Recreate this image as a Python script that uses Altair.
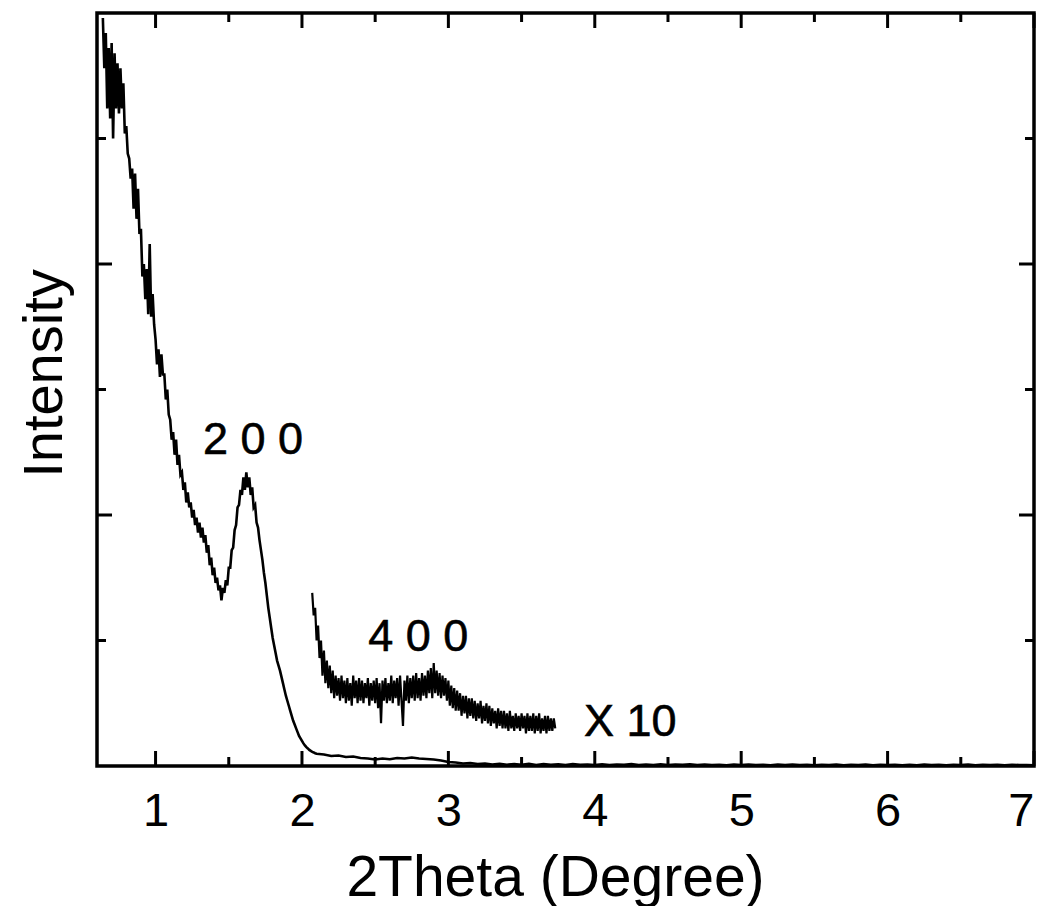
import altair as alt
import numpy as np
import pandas as pd

FONT = "Liberation Sans"

# ---- main pattern ----
segA_start, segA_step = 0.64, 0.01
segA_int = [2.98, 2.78, 2.92, 2.62, 2.86, 2.58, 2.88, 2.50, 2.84, 2.62,
            2.80, 2.60, 2.78, 2.62, 2.72, 2.52, 2.55, 2.44, 2.42, 2.34,
            2.38, 2.22, 2.36, 2.18, 2.30, 2.12, 2.14, 1.95, 2.00, 1.86,
            1.98, 1.80, 2.08, 1.79, 1.88, 1.76, 1.70, 1.60, 1.66, 1.55,
            1.64, 1.56, 1.56, 1.46, 1.50, 1.40, 1.38, 1.30, 1.33, 1.24,
            1.30, 1.20, 1.24, 1.16, 1.17, 1.10, 1.13]

segB_start, segB_step = 1.21, 0.01
segB_int = [1.05, 1.09, 1.03, 1.05, 0.99, 1.02, 0.96, 0.99, 0.93, 0.97,
            0.91, 0.95, 0.89, 0.92, 0.85, 0.88, 0.80, 0.83, 0.76, 0.79,
            0.73, 0.75, 0.70, 0.72, 0.66, 0.71, 0.69, 0.74, 0.72, 0.79,
            0.79, 0.86, 0.87, 0.94, 0.96, 1.03, 1.04, 1.10, 1.08, 1.15,
            1.10, 1.17, 1.11, 1.15, 1.08, 1.11, 1.03, 1.04, 0.97, 0.95,
            0.90, 0.86, 0.82, 0.77, 0.73, 0.68, 0.63, 0.59, 0.55, 0.51,
            0.48, 0.45, 0.42, 0.40, 0.38, 0.355, 0.33, 0.305, 0.28, 0.26,
            0.24, 0.22, 0.20, 0.18, 0.165, 0.15, 0.135, 0.12, 0.11, 0.10,
            0.09, 0.082, 0.075, 0.07, 0.064, 0.06, 0.056, 0.054, 0.051, 0.049]

segC_start, segC_step = 2.15, 0.05
segC_int = [0.046, 0.040, 0.042, 0.036, 0.038, 0.032, 0.030, 0.026, 0.030, 0.027,
            0.032, 0.030, 0.034, 0.030, 0.028, 0.026, 0.022, 0.016, 0.014, 0.010,
            0.012, 0.008, 0.010, 0.006, 0.009, 0.005, 0.008, 0.005, 0.009, 0.004,
            0.008, 0.005, 0.007, 0.004, 0.008, 0.005, 0.006, 0.004, 0.007, 0.004,
            0.006, 0.005, 0.008, 0.004, 0.006, 0.004, 0.007, 0.004, 0.006, 0.005,
            0.007, 0.004, 0.006, 0.004, 0.005, 0.003, 0.006, 0.004, 0.006, 0.004,
            0.005, 0.003, 0.006, 0.004, 0.006, 0.004, 0.005, 0.003, 0.005, 0.004,
            0.006, 0.003, 0.005, 0.004, 0.006, 0.003, 0.005, 0.004, 0.005, 0.003,
            0.005, 0.003, 0.006, 0.004, 0.005, 0.003, 0.005, 0.004, 0.006, 0.003,
            0.005, 0.004, 0.005, 0.003, 0.005, 0.004, 0.004, 0.003]

# ---- x10 magnified segment ----
x10_start, x10_step = 2.07, 0.01
x10_int = [0.69, 0.60, 0.63, 0.50, 0.56, 0.43, 0.50, 0.36, 0.46, 0.33,
           0.42, 0.31, 0.40, 0.29, 0.38, 0.27, 0.36, 0.28, 0.35, 0.26,
           0.36, 0.27, 0.34, 0.25, 0.35, 0.26, 0.33, 0.24, 0.36, 0.27,
           0.34, 0.25, 0.35, 0.26, 0.34, 0.25, 0.33, 0.27, 0.35, 0.24,
           0.33, 0.26, 0.34, 0.25, 0.35, 0.23, 0.33, 0.17, 0.34, 0.26,
           0.35, 0.25, 0.33, 0.26, 0.36, 0.25, 0.34, 0.27, 0.35, 0.24,
           0.36, 0.26, 0.16, 0.34, 0.26, 0.36, 0.25, 0.35, 0.27, 0.36,
           0.26, 0.37, 0.27, 0.35, 0.26, 0.37, 0.28, 0.36, 0.27, 0.38,
           0.29, 0.39, 0.27, 0.41, 0.29, 0.38, 0.28, 0.37, 0.27, 0.36,
           0.28, 0.35, 0.26, 0.34, 0.24, 0.32, 0.23, 0.31, 0.22, 0.30,
           0.22, 0.29, 0.20, 0.28, 0.21, 0.28, 0.19, 0.27, 0.20, 0.27,
           0.19, 0.26, 0.18, 0.25, 0.19, 0.26, 0.17, 0.24, 0.18, 0.25,
           0.17, 0.24, 0.16, 0.23, 0.17, 0.22, 0.15, 0.23, 0.16, 0.22,
           0.15, 0.22, 0.15, 0.21, 0.14, 0.22, 0.15, 0.20, 0.14, 0.21,
           0.15, 0.20, 0.14, 0.21, 0.15, 0.20, 0.13, 0.21, 0.14, 0.20,
           0.14, 0.21, 0.13, 0.20, 0.14, 0.21, 0.13, 0.19, 0.14, 0.20,
           0.13, 0.20, 0.14, 0.19, 0.14, 0.19, 0.15]

# ---- ticks and labels ----
x_major = [1, 2, 3, 4, 5, 6, 7]
x_minor = [1.5, 2.5, 3.5, 4.5, 5.5, 6.5]
y_major = [1, 2]
y_minor = [0.5, 1.5, 2.5]
ann_text = ["2 0 0", "4 0 0", "X 10"]
ann_x = [1.666, 2.794, 4.243]
ann_y = [1.243, 0.458, 0.12]

W, H = 937, 753
MAJ, MIN = 15, 9


def seg(start, step, vals):
    return pd.DataFrame({"x": np.round(start + step * np.arange(len(vals)), 4), "y": vals})


main_df = pd.concat([seg(segA_start, segA_step, segA_int),
                     seg(segB_start, segB_step, segB_int),
                     seg(segC_start, segC_step, segC_int)], ignore_index=True)
main_df["order"] = np.arange(len(main_df))
x10_df = seg(x10_start, x10_step, x10_int)
x10_df["order"] = np.arange(len(x10_df))

xscale = alt.Scale(domain=[0.6, 7], nice=False, zero=False)
yscale = alt.Scale(domain=[0, 3], nice=False, zero=False)
xaxis = alt.Axis(values=x_major, format="d", title="2Theta (Degree)",
                 titleX=458, titleY=129, titleBaseline="alphabetic")
yaxis = alt.Axis(labels=False, title="Intensity", titleX=-36, titleY=360,
                 titleBaseline="alphabetic", titleAngle=270)


def X(field="x"):
    return alt.X(f"{field}:Q", scale=xscale, axis=xaxis)


def Y(field="y"):
    return alt.Y(f"{field}:Q", scale=yscale, axis=yaxis)


main_line = alt.Chart(main_df).mark_line(color="black", strokeWidth=2.6, clip=True).encode(
    x=X(), y=Y(), order="order:Q")
x10_line = alt.Chart(x10_df).mark_line(color="black", strokeWidth=2.2, clip=True).encode(
    x=X(), y=Y(), order="order:Q")

xmaj = pd.DataFrame({"x": x_major})
xmin = pd.DataFrame({"x": x_minor})
ymaj = pd.DataFrame({"y": y_major})
ymin = pd.DataFrame({"y": y_minor})

rule = dict(color="black", strokeWidth=3)
ticks = [
    alt.Chart(xmaj).mark_rule(**rule).encode(x=X(), y=alt.value(H), y2=alt.value(H - MAJ)),
    alt.Chart(xmin).mark_rule(**rule).encode(x=X(), y=alt.value(H), y2=alt.value(H - MIN)),
    alt.Chart(xmaj).mark_rule(**rule).encode(x=X(), y=alt.value(0), y2=alt.value(MAJ)),
    alt.Chart(xmin).mark_rule(**rule).encode(x=X(), y=alt.value(0), y2=alt.value(MIN)),
    alt.Chart(ymaj).mark_rule(**rule).encode(y=Y(), x=alt.value(0), x2=alt.value(MAJ)),
    alt.Chart(ymin).mark_rule(**rule).encode(y=Y(), x=alt.value(0), x2=alt.value(MIN)),
    alt.Chart(ymaj).mark_rule(**rule).encode(y=Y(), x=alt.value(W), x2=alt.value(W - MAJ)),
    alt.Chart(ymin).mark_rule(**rule).encode(y=Y(), x=alt.value(W), x2=alt.value(W - MIN)),
]

ann_df = pd.DataFrame({"t": ann_text, "x": ann_x, "y": ann_y})
ann = alt.Chart(ann_df).mark_text(font=FONT, fontSize=45, color="black", stroke="black",
                                  strokeWidth=0.6, align="center",
                                  baseline="alphabetic").encode(
    x=X(), y=Y(), text="t:N")

chart = alt.layer(main_line, x10_line, *ticks, ann).properties(
    width=W, height=H,
    autosize=alt.AutoSizeParams(type="none"),
    padding={"left": 89, "top": 5, "right": 8, "bottom": 140},
).configure_view(stroke="black", strokeWidth=3.5).configure_axis(
    domain=False, grid=False, ticks=False, tickSize=0,
    labelFont=FONT, labelFontSize=47, labelColor="black", labelPadding=22,
    titleFont=FONT, titleFontSize=57, titleColor="black", titleFontWeight="normal",
).configure_axisY(titleFontSize=56)

chart.save("out.html", embed_options={"renderer": "svg", "actions": False})
